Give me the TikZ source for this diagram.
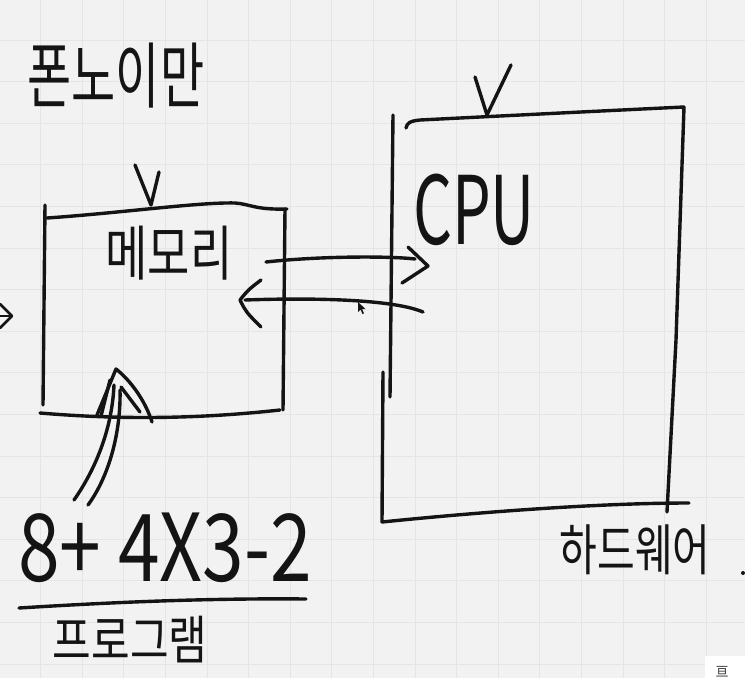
\documentclass[tikz,border=0pt]{standalone}
\usepackage{graphicx}
\usepackage{fontspec}
\newfontfamily\kr{Noto Sans CJK KR}
\definecolor{paper}{HTML}{F2F2F2}
\definecolor{gridc}{HTML}{E5E5E5}
\definecolor{ink}{HTML}{141414}
\begin{document}
\begin{tikzpicture}[x=1pt,y=-1pt,
  pen/.style={draw=ink,line width=3.4pt,line cap=round,line join=round},
  hwtext/.style={inner sep=0pt,text=ink,font=\kr},
]
\fill[paper] (0,0) rectangle (745,678);
\useasboundingbox (0,0) rectangle (745,678);
\foreach \k in {0,...,16} { \draw[gridc,line width=1pt] ({40.6+41.6*\k},0) -- ({40.6+41.6*\k},678); }
\foreach \k in {0,...,15} { \draw[gridc,line width=1pt] (0,{40+41.6*\k}) -- (745,{40+41.6*\k}); }

% title
\node[hwtext] (title) at (116,76) {\fontsize{48}{48}\selectfont\scalebox{1}[1.5]{폰노이만}};

% memory box
\coordinate (mTL) at (45,205);
\coordinate (mBL) at (43,405);
\coordinate (mTR) at (285,209);
\coordinate (mBR) at (283,410);
\draw[pen] (mTL) -- (mBL);
\draw[pen] (47,218) .. controls (120,213) and (200,202) .. (235,203) .. controls (250,204) and (255,210) .. (287,209);
\draw[pen] (mTR) -- (mBR);
\draw[pen] (40,413) .. controls (100,418) and (180,421) .. (280,410);
\draw[pen] (135,165) -- (151,205) -- (159,172);
\node[hwtext] (mem) at (169,253) {\fontsize{46}{46}\selectfont\scalebox{1}[1.3]{메모리}};

% CPU box
\draw[pen] (393,115) -- (390,397);
\draw[pen] (383,372) -- (382,522);
\draw[pen] (406,128) .. controls (407,123) and (410,121) .. (420,120) .. controls (500,116) and (600,111) .. (684,107);
\draw[pen] (684,107) -- (676,340) -- (667,512);
\draw[pen] (382,522) .. controls (480,512) and (600,503) .. (689,503);
\draw[pen] (475,77) -- (487,115) -- (511,65);
\node[hwtext] (cpu) at (474,210) {\fontsize{90}{90}\selectfont\scalebox{0.68}[1.05]{CPU}};

% arrows memory <-> cpu
\coordinate (a1s) at (266,262);
\coordinate (a1e) at (415,259);
\draw[pen] (a1s) .. controls (320,256) and (390,256) .. (a1e);
\draw[pen] (408,247) -- (428,266) -- (402,283);
\coordinate (a2s) at (423,312);
\coordinate (a2e) at (245,300);
\draw[pen] (a2s) .. controls (390,298) and (300,298) .. (a2e);
\draw[pen] (261,280) .. controls (248,290) .. (240,300) .. controls (246,312) .. (261,327);

% program arrow
\draw[pen] (74,500) .. controls (95,470) and (112,430) .. (114,385);
\draw[pen] (88,505) .. controls (110,475) and (121,430) .. (120,390);
\draw[pen] (97,415) -- (116,369) .. controls (130,380) and (145,400) .. (152,422);
\draw[pen] (101,416) -- (110,380);
\draw[pen] (121,387) -- (140,412);

% expression and program
\node[hwtext] (expr) at (165,548) {\fontsize{72}{72}\selectfont\scalebox{1.04}[1.3]{8+ 4X3-2}};
\draw[pen] (19,608) .. controls (100,603) and (200,598) .. (306,599);
\node[hwtext] (prog) at (130,640) {\fontsize{42}{42}\selectfont\scalebox{1}[1.25]{프로그램}};

% hardware
\node[hwtext] (hard) at (635,550) {\fontsize{41}{41}\selectfont\scalebox{1}[1.35]{하드웨어}};
\fill[ink] (743,573) circle (2);

% left edge mark
\draw[pen,line width=2.5pt] (0,304) -- (12,316) -- (0,328);
\draw[pen,line width=2.5pt] (0,316) -- (12,316);

% cursor
\fill[ink] (358,302) -- (358,312) -- (360.5,309.5) -- (362.5,314) -- (364,313.3) -- (362,309) -- (365.5,309) -- cycle;

% corner icon
\fill[white] (705,656) rectangle (745,678);
\node[text=ink!85,inner sep=0pt,font={\kr\fontsize{13}{13}\selectfont}] (icon) at (722,672) {亘};
\end{tikzpicture}
\end{document}
